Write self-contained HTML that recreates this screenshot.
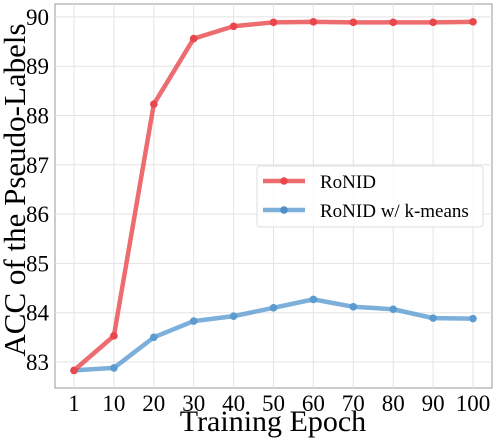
<!DOCTYPE html>
<html><head><meta charset="utf-8"><style>
body{margin:0;background:#fff}
svg text{font-family:"Liberation Serif",serif;fill:#000}
</style></head><body>
<svg id="c" width="498" height="440">
<rect x="55" y="4" width="437" height="384" fill="#fff" stroke="#999" stroke-width="1"/>
<g id="grid"></g><g id="series"></g><g id="ticks"></g>
<text x="273" y="431" font-size="30" text-anchor="middle">Training Epoch</text>
<text transform="translate(25,190) rotate(-90)" font-size="31" text-anchor="middle">ACC of the Pseudo-Labels</text>
<g>
<rect x="257" y="166" width="226" height="61" rx="3" fill="#fff" fill-opacity="0.85" stroke="#ddd"/>
<g>
<line x1="263" y1="181" x2="305" y2="181" stroke="#e8474c" stroke-opacity="0.8" stroke-width="4.5"/>
<circle cx="284" cy="181" r="3.8" fill="#e8474c"/>
<text x="320" y="188" font-size="19">RoNID</text></g>
<g>
<line x1="263" y1="210" x2="305" y2="210" stroke="#5b9bd0" stroke-opacity="0.8" stroke-width="4.5"/>
<circle cx="284" cy="210" r="3.8" fill="#4f8fc8"/>
<text x="320" y="217" font-size="19">RoNID w/ k-means</text></g>
</g>
</svg>
<script>
const categories=["1","10","20","30","40","50","60","70","80","90","100"];
const ronid=[82.83,83.53,88.23,89.56,89.81,89.89,89.9,89.89,89.89,89.89,89.9];
const ronidKmeans=[82.83,82.88,83.5,83.83,83.93,84.1,84.27,84.12,84.07,83.89,83.88];
const yTicks=[83,84,85,86,87,88,89,90];
const NS="http://www.w3.org/2000/svg";
function xs(i){return 74+i*39.9;}
function ys(v){return 362-(v-83)*49.3;}
function mk(t,a,p){const e=document.createElementNS(NS,t);for(const k in a)e.setAttribute(k,a[k]);p.appendChild(e);return e;}
const grid=document.getElementById('grid'),ticks=document.getElementById('ticks'),ser=document.getElementById('series');
yTicks.forEach(v=>{
 const l=mk('line',{x1:55,x2:492,y1:ys(v),y2:ys(v),stroke:'#e3e3e3','stroke-width':1},grid);
 
 
 const t=mk('text',{x:49,y:ys(v)+8,'font-size':23,'text-anchor':'end'},ticks);t.textContent=v;
 
 
});
categories.forEach((c,i)=>{
 const l=mk('line',{x1:xs(i),x2:xs(i),y1:4,y2:388,stroke:'#e3e3e3','stroke-width':1},grid);
 
 
 const t=mk('text',{x:xs(i),y:411,'font-size':23,'text-anchor':'middle'},ticks);t.textContent=c;
 
 
});
function draw(vals,col,name){
 const g=mk('g',{},ser);
 
 
 mk('polyline',{points:vals.map((v,i)=>xs(i)+','+ys(v)).join(' '),fill:'none',stroke:col,'stroke-opacity':0.8,'stroke-width':4.5,'stroke-linejoin':'round'},g);
 vals.forEach((v,i)=>{const c=mk('circle',{cx:xs(i),cy:ys(v),r:3.8,fill:col},g);
  
  });
}
draw(ronidKmeans,'#5b9bd0','ronid-kmeans-series');
draw(ronid,'#e8474c','ronid-series');
</script>
</body></html>
